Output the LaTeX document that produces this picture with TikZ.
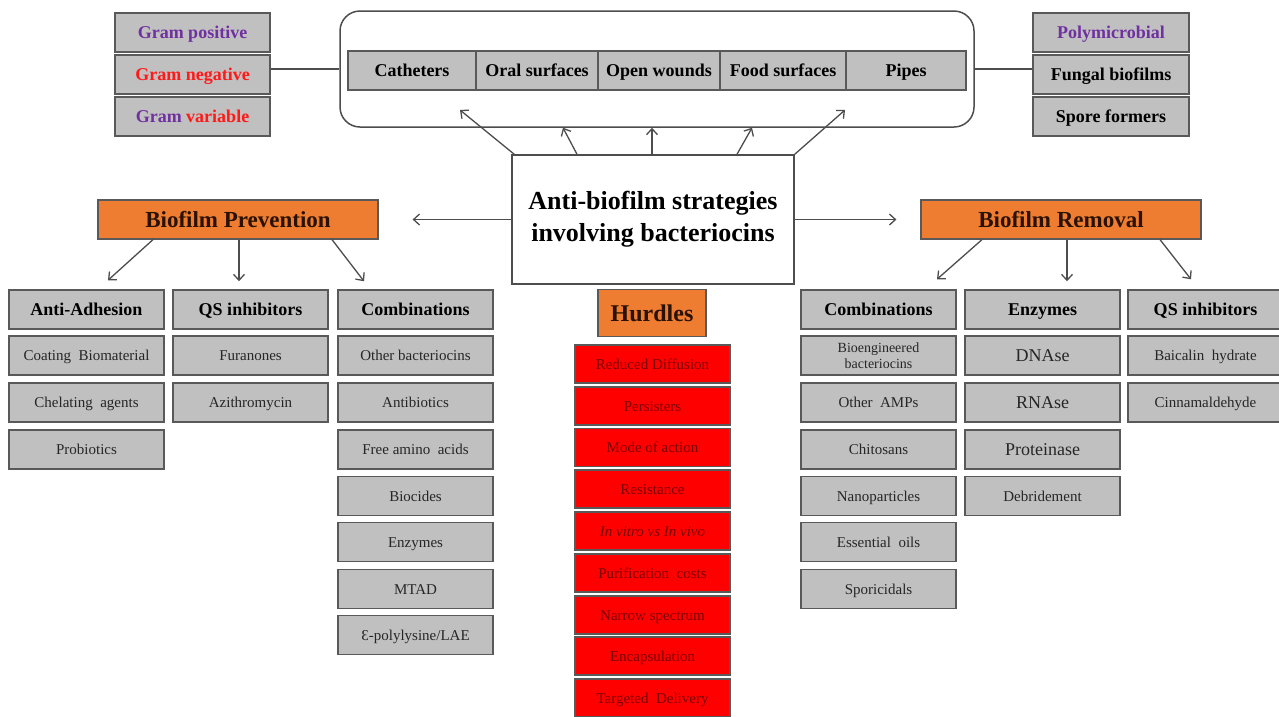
\documentclass[tikz,border=0pt]{standalone}
\usepackage{fontspec}
\setmainfont{Liberation Serif}
\usetikzlibrary{arrows.meta}
\definecolor{boxgray}{HTML}{C0C0C0}
\definecolor{edgegray}{HTML}{595959}
\definecolor{linkgray}{HTML}{4D4D4D}
\definecolor{itemtext}{HTML}{262626}
\definecolor{boxorange}{HTML}{EE7D32}
\definecolor{orangetext}{HTML}{2B1200}
\definecolor{hurdlered}{HTML}{FF0000}
\definecolor{hurdletext}{HTML}{7A0000}
\definecolor{gpurple}{HTML}{7030A0}
\definecolor{gred}{HTML}{FF1A1A}

\begin{document}
\begin{tikzpicture}[x=1pt,y=-1pt,
  cell/.style={draw=edgegray,line width=1.5pt,fill=boxgray,inner sep=0pt,
    minimum width=155pt,minimum height=39pt,text=itemtext,
    text height=10pt,text depth=0pt,font=\fontsize{15}{16}\selectfont},
  headcell/.style={cell,text=black,text height=12pt,
    font=\bfseries\fontsize{18}{20}\selectfont},
  orangecell/.style={draw=edgegray,line width=1.2pt,fill=boxorange,inner sep=0pt,
    minimum height=39pt,text=orangetext,text height=15pt,text depth=0pt,
    font=\bfseries\fontsize{23}{25}\selectfont},
  hurdlecell/.style={draw=edgegray,line width=1.2pt,fill=hurdlered,inner sep=0pt,
    minimum width=155pt,minimum height=38pt,text=hurdletext,
    text height=10pt,text depth=0pt,font=\fontsize{15}{16}\selectfont},
  link/.style={draw=linkgray,line width=1.3pt,-{Straight Barb[length=6pt,width=11pt]}},
  wire/.style={draw=linkgray,line width=1.3pt}]
\useasboundingbox (0.000000,0.000000) rectangle (1279.000000,716.000000);
\fill[white] (0.000000,0.000000) rectangle (1279.000000,716.000000);
% Drawing top stacks
\node[headcell,text=gpurple] (gpos) at (192.500000,32.500000) {Gram positive};
\node[headcell,text=gred] (gneg) at (192.500000,74.500000) {Gram negative};
\node[headcell] (gvar) at (192.500000,116.500000) {\textcolor{gpurple}{Gram} \textcolor{gred}{variable}};
\node[headcell,minimum width=156pt,text=gpurple] (poly) at (1111.000000,32.500000) {Polymicrobial};
\node[headcell,minimum width=156pt] (fungal) at (1111.000000,74.500000) {Fungal biofilms};
\node[headcell,minimum width=156pt] (spore) at (1111.000000,116.500000) {Spore formers};
% Drawing surfaces box
\node[draw=linkgray,line width=1.5pt,rounded corners=20pt,fill=white,
  minimum width=634pt,minimum height=116pt] (sites) at (657.000000,69.000000) {};
\node[headcell,minimum width=128pt] (cath) at (412.000000,70.500000) {Catheters};
\node[headcell,minimum width=122pt] (oral) at (537.000000,70.500000) {Oral surfaces};
\node[headcell,minimum width=122pt] (wound) at (659.000000,70.500000) {Open wounds};
\node[headcell,minimum width=126pt] (food) at (783.000000,70.500000) {Food surfaces};
\node[headcell,minimum width=120pt] (pipe) at (906.000000,70.500000) {Pipes};
\draw[wire] (sites.west -| gneg.east) -- (sites.west);
\draw[wire] (sites.east) -- (sites.east -| fungal.west);
% Drawing central box
\node[draw=linkgray,line width=1.5pt,fill=white,minimum width=282pt,minimum height=129pt,
  align=center,font=\bfseries\fontsize{26}{32}\selectfont] (core) at (653.000000,219.500000)
  {Anti-biofilm strategies\\involving bacteriocins};
\coordinate (hit1) at (460.000000,110.000000);
\coordinate (hit5) at (845.000000,110.000000);
\draw[link] ([xshift=3pt]core.north west) -- (hit1);
\draw[link] ([xshift=-76pt]core.north) -- ([xshift=-94pt]sites.south);
\draw[link] ([xshift=-1pt]core.north) -- ([xshift=-5pt]sites.south);
\draw[link] ([xshift=84pt]core.north) -- ([xshift=95pt]sites.south);
\draw[link] (core.north east) -- (hit5);
% Drawing prevention and removal
\node[orangecell,minimum width=280pt] (prev) at (238.000000,219.500000) {Biofilm Prevention};
\node[orangecell,minimum width=280pt] (rem) at (1061.000000,219.500000) {Biofilm Removal};
\draw[link] (core.west) -- ([xshift=34pt]prev.east);
\draw[link] (core.east) -- ([xshift=-24pt]rem.west);
% Line: prevention columns
\node[headcell] (adh) at (86.500000,309.500000) {Anti-Adhesion};
\node[headcell] (qs) at (250.500000,309.500000) {QS inhibitors};
\node[headcell] (comb) at (415.500000,309.500000) {Combinations};
\draw[link] ([xshift=-85pt]prev.south) -- ([xshift=21.5pt,yshift=9pt]adh.north);
\draw[link] ([xshift=1pt]prev.south) -- ([xshift=-11.5pt,yshift=8pt]qs.north);
\draw[link] ([xshift=94pt]prev.south) -- ([xshift=-51.5pt,yshift=8pt]comb.north);
\node[cell] (adh1) at (86.500000,355.500000) {Coating\ \ Biomaterial};
\node[cell] (adh2) at (86.500000,402.500000) {Chelating\ \ agents};
\node[cell] (adh3) at (86.500000,449.500000) {Probiotics};
\node[cell] (qs1) at (250.500000,355.500000) {Furanones};
\node[cell] (qs2) at (250.500000,402.500000) {Azithromycin};
\node[cell] (comb1) at (415.500000,355.500000) {Other bacteriocins};
\node[cell] (comb2) at (415.500000,402.500000) {Antibiotics};
\node[cell] (comb3) at (415.500000,449.500000) {Free amino\ \ acids};
\node[cell] (comb4) at (415.500000,496.000000) {Biocides};
\node[cell] (comb5) at (415.500000,542.000000) {Enzymes};
\node[cell] (comb6) at (415.500000,589.000000) {MTAD};
\node[cell] (comb7) at (415.500000,635.000000) {Ɛ-polylysine/LAE};
% Line: hurdles
\node[orangecell,minimum width=108pt,minimum height=47pt,text height=16pt,
  font=\bfseries\fontsize{24}{26}\selectfont] (hurd) at (652.000000,313.000000) {Hurdles};
\node[hurdlecell] (h1) at (652.500000,364.000000) {Reduced Diffusion};
\node[hurdlecell] (h2) at (652.500000,406.000000) {Persisters};
\node[hurdlecell] (h3) at (652.500000,447.500000) {Mode of action};
\node[hurdlecell] (h4) at (652.500000,489.000000) {Resistance};
\node[hurdlecell] (h5) at (652.500000,531.000000) {\itshape In vitro vs In vivo};
\node[hurdlecell] (h6) at (652.500000,573.000000) {Purification\ \ costs};
\node[hurdlecell] (h7) at (652.500000,615.000000) {Narrow spectrum};
\node[hurdlecell] (h8) at (652.500000,656.000000) {Encapsulation};
\node[hurdlecell] (h9) at (652.500000,698.000000) {Targeted\ \ Delivery};
% Line: removal columns
\node[headcell] (rcomb) at (878.500000,309.500000) {Combinations};
\node[headcell] (enz) at (1042.500000,309.500000) {Enzymes};
\node[headcell] (rqs) at (1205.500000,309.500000) {QS inhibitors};
\draw[link] ([xshift=-79pt]rem.south) -- ([xshift=58.5pt,yshift=10pt]rcomb.north);
\draw[link] ([xshift=6pt]rem.south) -- ([xshift=24.5pt,yshift=8pt]enz.north);
\draw[link] ([xshift=99pt]rem.south) -- ([xshift=-14.5pt,yshift=10pt]rqs.north);
\node[cell,align=center,text height=,text depth=,font=\fontsize{14}{16}\selectfont]
  (rcomb1) at (878.500000,355.500000) {Bioengineered\\bacteriocins};
\node[cell] (rcomb2) at (878.500000,402.500000) {Other\ \ AMPs};
\node[cell] (rcomb3) at (878.500000,449.500000) {Chitosans};
\node[cell] (rcomb4) at (878.500000,496.000000) {Nanoparticles};
\node[cell] (rcomb5) at (878.500000,542.000000) {Essential\ \ oils};
\node[cell] (rcomb6) at (878.500000,589.000000) {Sporicidals};
\node[cell,text height=12pt,font=\fontsize{18}{20}\selectfont] (enz1) at (1042.500000,355.500000) {DNAse};
\node[cell,text height=12pt,font=\fontsize{18}{20}\selectfont] (enz2) at (1042.500000,402.500000) {RNAse};
\node[cell,text height=12pt,font=\fontsize{18}{20}\selectfont] (enz3) at (1042.500000,449.500000) {Proteinase};
\node[cell] (enz4) at (1042.500000,496.000000) {Debridement};
\node[cell] (rqs1) at (1205.500000,355.500000) {Baicalin\ \ hydrate};
\node[cell] (rqs2) at (1205.500000,402.500000) {Cinnamaldehyde};
% Done with boxes
\end{tikzpicture}
\end{document}
